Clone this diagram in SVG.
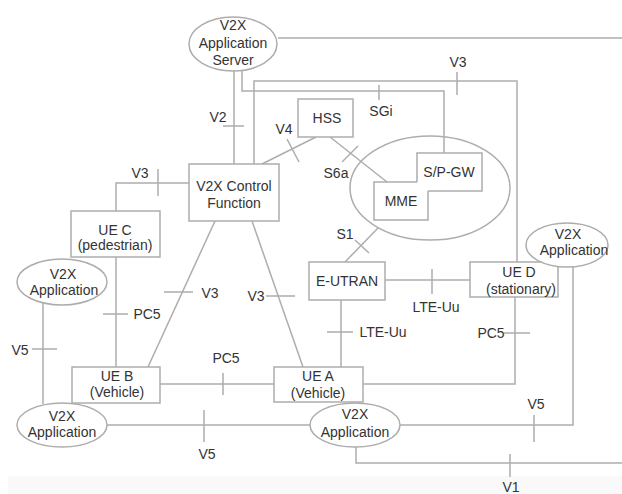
<svg xmlns="http://www.w3.org/2000/svg" width="622" height="494" viewBox="0 0 622 494">
<style>
.ln{fill:none;stroke:#adadad;stroke-width:1.5}
.bx{fill:#fff;stroke:#adadad;stroke-width:1.5}
text{font-family:"Liberation Sans",Arial,sans-serif;font-size:14px;fill:#333;text-anchor:middle}
</style>
<rect x="0" y="0" width="622" height="494" fill="#fff"/>
<rect x="8" y="476" width="614" height="18" fill="#f9f9f9"/>
<g id="connectors" class="ln">
<path d="M278 38H622"/>
<path d="M234 71V164"/>
<path d="M242 70V91H444V153"/>
<path d="M254 164V81H517V262"/>
<path d="M262 164L316 137"/>
<path d="M330 137L387 182"/>
<path d="M378 228L345 262"/>
<path d="M385 280H470"/>
<path d="M341 300V367"/>
<path d="M515 297V384H363"/>
<path d="M573 267V425H400"/>
<path d="M356 447V463H622"/>
<path d="M107 425H310"/>
<path d="M160 384H274"/>
<path d="M215 221L148 367"/>
<path d="M252 221L303 367"/>
<path d="M116 211V183H189"/>
<path d="M116 257V367"/>
<path d="M43 303V404"/>
<g id="ticks">
<path d="M223 126H244"/>
<path d="M287 139L299 162"/>
<path d="M342 162L358 146"/>
<path d="M379 85V100"/>
<path d="M457 72V95"/>
<path d="M355 240L369 253"/>
<path d="M432 269V294"/>
<path d="M327 332H353"/>
<path d="M504 333H530"/>
<path d="M534 415V442"/>
<path d="M510 454V477"/>
<path d="M204 410V442"/>
<path d="M223 373V395"/>
<path d="M32 349H57"/>
<path d="M103 314H128"/>
<path d="M164 292H193"/>
<path d="M266 296H295"/>
<path d="M158 169V196"/>
</g>
</g>
<g id="labels">
<text x="218" y="122">V2</text>
<text x="284" y="134">V4</text>
<text x="140" y="178">V3</text>
<text x="381" y="116">SGi</text>
<text x="458" y="67">V3</text>
<text x="336" y="178">S6a</text>
<text x="345" y="239">S1</text>
<text x="436" y="312">LTE-Uu</text>
<text x="383" y="337">LTE-Uu</text>
<text x="491" y="338">PC5</text>
<text x="536" y="409">V5</text>
<text x="511" y="492">V1</text>
<text x="207" y="459">V5</text>
<text x="226" y="363">PC5</text>
<text x="20" y="355">V5</text>
<text x="147" y="319">PC5</text>
<text x="210" y="298">V3</text>
<text x="256" y="301">V3</text>
</g>
<g id="server">
<ellipse class="bx" cx="233" cy="44" rx="44" ry="27"/>
<text x="233" y="30">V2X</text>
<text x="233" y="48">Application</text>
<text x="233" y="65">Server</text>
</g>
<g id="cf">
<rect class="bx" x="189" y="164" width="90" height="57"/>
<text x="234" y="191">V2X Control</text>
<text x="234" y="208">Function</text>
</g>
<g id="hss">
<rect class="bx" x="298" y="99" width="55" height="38"/>
<text x="327" y="123">HSS</text>
</g>
<g id="core">
<ellipse class="ln" cx="430" cy="188" rx="80" ry="52"/>
</g>
<g id="mme">
<path d="M374 182H417V191H428V220H374Z" fill="#fff"/>
<path class="ln" d="M417 182H374V220H428V191"/>
<text x="401" y="206">MME</text>
</g>
<g id="spgw">
<path d="M417 153H482V191H428V182H417Z" fill="#fff"/>
<path class="ln" d="M417 182V153H482V191H428"/>
<text x="449" y="177">S/P-GW</text>
</g>
<g id="eutran">
<rect class="bx" x="309" y="262" width="76" height="38"/>
<text x="347" y="286">E-UTRAN</text>
</g>
<g id="ued">
<rect class="bx" x="470" y="262" width="88" height="35"/>
<text x="519" y="277">UE D</text>
<text x="521" y="294">(stationary)</text>
</g>
<g id="app-d">
<ellipse class="bx" cx="567" cy="245" rx="41" ry="22"/>
<text x="568" y="239">V2X</text>
<text x="574" y="255">Application</text>
</g>
<g id="uea">
<rect class="bx" x="274" y="367" width="89" height="35"/>
<text x="318" y="381">UE A</text>
<text x="318" y="398">(Vehicle)</text>
</g>
<g id="app-a">
<ellipse class="bx" cx="355" cy="425" rx="45" ry="22"/>
<text x="355" y="419">V2X</text>
<text x="355" y="437">Application</text>
</g>
<g id="ueb">
<rect class="bx" x="72" y="367" width="88" height="36"/>
<text x="117" y="381">UE B</text>
<text x="117" y="397">(Vehicle)</text>
</g>
<g id="app-b">
<ellipse class="bx" cx="62" cy="425" rx="45" ry="22"/>
<text x="62" y="421">V2X</text>
<text x="62" y="437">Application</text>
</g>
<g id="uec">
<rect class="bx" x="71" y="211" width="89" height="46"/>
<text x="115" y="235">UE C</text>
<text x="115" y="250">(pedestrian)</text>
</g>
<g id="app-c">
<ellipse class="bx" cx="62" cy="282" rx="45" ry="23"/>
<text x="63" y="279">V2X</text>
<text x="64" y="295">Application</text>
</g>
</svg>
